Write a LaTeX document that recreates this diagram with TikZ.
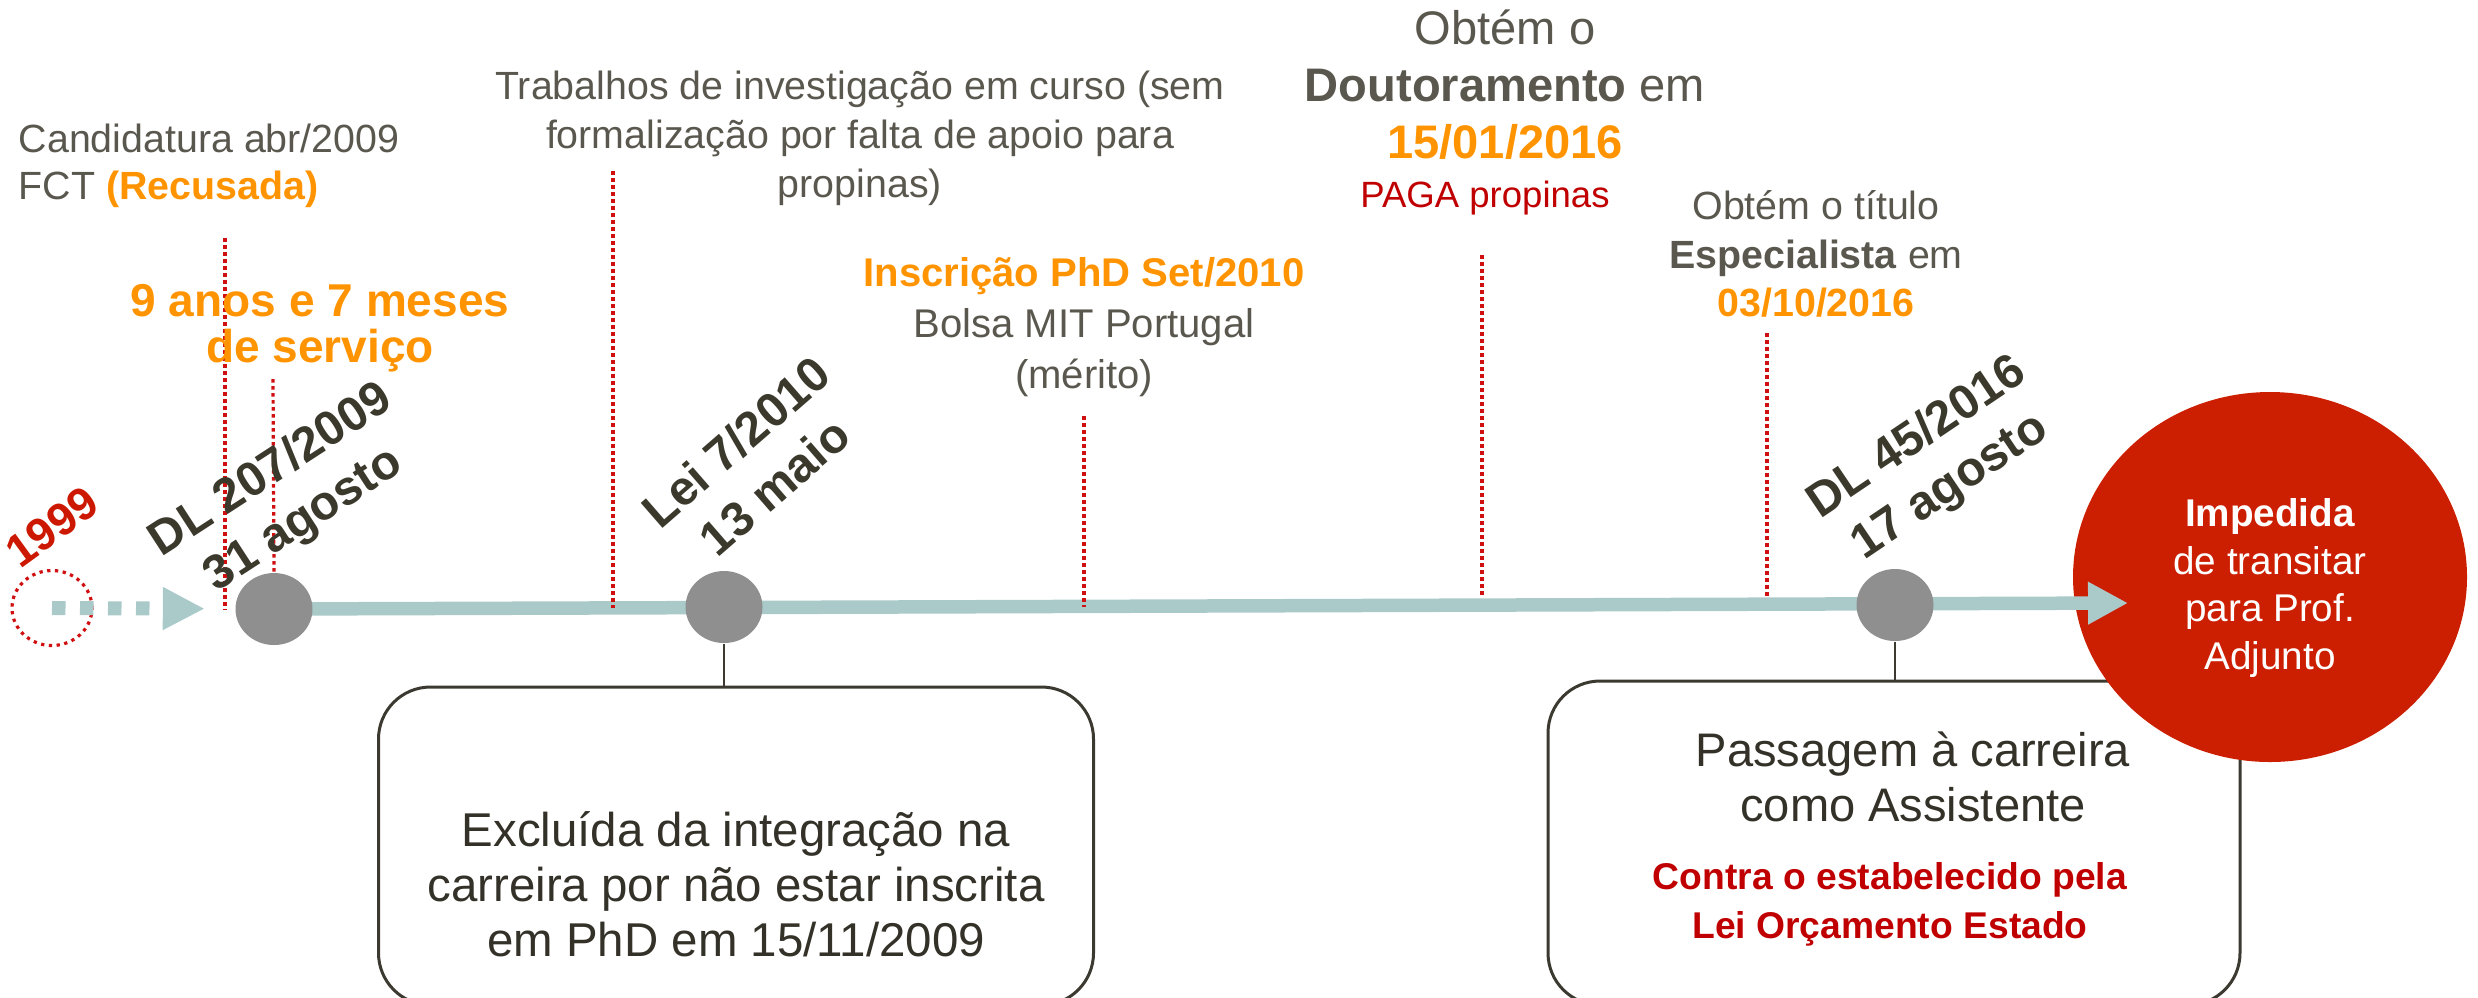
\documentclass[tikz,border=0pt]{standalone}
\usepackage{fontspec}
\setmainfont{Liberation Sans}
\usetikzlibrary{shapes.geometric,arrows.meta,positioning}

\definecolor{txtgray}{RGB}{90,88,78}
\definecolor{lblgray}{RGB}{59,56,44}
\definecolor{boxtxt}{RGB}{51,49,40}
\definecolor{boxline}{RGB}{60,58,48}
\definecolor{accorange}{RGB}{255,148,0}
\definecolor{accred}{RGB}{192,0,0}
\definecolor{yearred}{RGB}{204,24,0}
\definecolor{circred}{RGB}{204,30,0}
\definecolor{markred}{RGB}{208,16,16}
\definecolor{linegray}{RGB}{170,202,202}
\definecolor{dotgray}{RGB}{143,143,143}

\begin{document}
\begin{tikzpicture}
	[
		x=0.1mm, y=-0.1mm,
		every node/.style = {
			inner sep=0pt, align=center
		},
		note/.style = {text=txtgray, font=\fontsize{11.2}{13.9}\selectfont},
		datelbl/.style = {text=lblgray, font=\bfseries\fontsize{13.7}{16.8}\selectfont},
		marker/.style = {draw=markred, line width=0.32mm, dash pattern=on 0.35mm off 0.35mm},
		dot/.style = {ellipse, fill=dotgray, minimum width=7.7mm, minimum height=7.2mm},
		box/.style = {draw=boxline, line width=0.3mm, rounded corners=5.2mm},
		stem/.style = {draw=boxline, line width=0.2mm},
		timeline/.style = {draw=linegray, line width=1.35mm, -{Triangle[length=4mm,width=4mm]}}
	]
	\useasboundingbox (0,0) rectangle (2478,997);

	% boxes below the timeline
	\node[box, minimum width=71.5mm, minimum height=31.8mm] (excl) at (736,846) {};
	\node[text=boxtxt, font=\fontsize{13.5}{15.6}\selectfont] (excltxt) at (736,884)
		{Excluída da integração na\\carreira por não estar inscrita\\em PhD em 15/11/2009};
	\node[box, minimum width=69.2mm, minimum height=32.4mm] (pass) at (1894,843) {};
	\node[text=boxtxt, font=\fontsize{13.4}{15.6}\selectfont] (passtxt) at (1913,777)
		{Passagem à carreira\\como Assistente};
	\node[below=3.9mm of passtxt, xshift=-2.3mm, text=accred,
		font=\bfseries\fontsize{10.6}{13.9}\selectfont] (contra)
		{Contra o estabelecido pela\\Lei Orçamento Estado};

	% end point
	\node[ellipse, fill=circred, minimum width=39.4mm, minimum height=37mm] (impedida) at (2270,577) {};
	\node[text=white, font=\fontsize{11}{13.6}\selectfont] (impedtxt) at (2270,588)
		{\textbf{Impedida}\\de transitar\\para Prof.\\Adjunto};

	% timeline
	\coordinate (p2009) at (274,609);
	\coordinate (p2010) at (724,607);
	\coordinate (p2016) at (1895,605);
	\coordinate (tend) at (2128,603);
	\draw[timeline] (p2009) -- (tend);

	% markers
	\draw[marker] (225,238) -- (225,610);
	\draw[marker] (613,171) -- (613,608);
	\draw[marker] (1084,416) -- (1084,607);
	\draw[marker] (1482,255) -- (1482,597);
	\draw[marker] (1767,333) -- (1767,597);

	\node[dot] (d2009) at (p2009) {};
	\node[dot] (d2010) at (p2010) {};
	\node[dot] (d2016) at (p2016) {};
	\draw[marker] (273,379) -- (d2009.north);

	\node[ellipse, draw=markred, line width=0.32mm, dash pattern=on 0.33mm off 0.45mm,
		minimum width=8mm, minimum height=7.5mm] (y1999) at (52,608) {};
	\draw[draw=linegray, line width=1.4mm, dash pattern=on 1.35mm off 1.45mm,
		-{Triangle[length=4.2mm,width=4mm]}, shorten >=3mm] (y1999.center) -- (d2009);

	\draw[stem] (d2010.south) -- (d2010.south |- excl.north);
	\draw[stem] (d2016.south) -- (d2016.south |- pass.north);

	% dates on the line
	\node[datelbl, text=yearred, font=\bfseries\fontsize{13}{14}\selectfont, rotate=36] (l1999) at (52,527) {1999};
	\node[datelbl, rotate=33] (l2009) at (288,496) {DL 207/2009\\31 agosto};
	\node[datelbl, rotate=41] (l2010) at (755,464) {Lei 7/2010\\13 maio};
	\node[datelbl, rotate=34] (l2016) at (1934,463) {DL 45/2016\\17 agosto};

	% notes above the line
	\node[note, anchor=west, align=left, font=\fontsize{11.2}{13.4}\selectfont] (cand) at (18,166)
		{Candidatura abr/2009\\FCT \textcolor{accorange}{\bfseries (Recusada)}};
	\node[text=accorange, font=\bfseries\fontsize{13.1}{13.2}\selectfont] (servico) at (320,328)
		{9 anos e 7 meses\\de serviço};
	\node[note] (trab) at (860,138)
		{Trabalhos de investigação em curso (sem\\formalização por falta de apoio para\\propinas)};
	\node[note, font=\fontsize{11.4}{14.5}\selectfont] (phd) at (1084,327)
		{\textcolor{accorange}{\bfseries Inscrição PhD Set/2010}\\Bolsa MIT Portugal\\(mérito)};
	\node[note, font=\fontsize{13.4}{16.2}\selectfont] (doutor) at (1505,85)
		{Obtém o\\\textbf{Doutoramento} em\\\textcolor{accorange}{\bfseries 15/01/2016}};
	\node[below=2mm of doutor, xshift=-2mm, text=accred, font=\fontsize{10.4}{12}\selectfont] (paga)
		{PAGA propinas};
	\node[note, font=\fontsize{11.2}{13.8}\selectfont] (titulo) at (1816,254)
		{Obtém o título\\\textbf{Especialista} em\\\textcolor{accorange}{\bfseries 03/10/2016}};
\end{tikzpicture}
\end{document}
